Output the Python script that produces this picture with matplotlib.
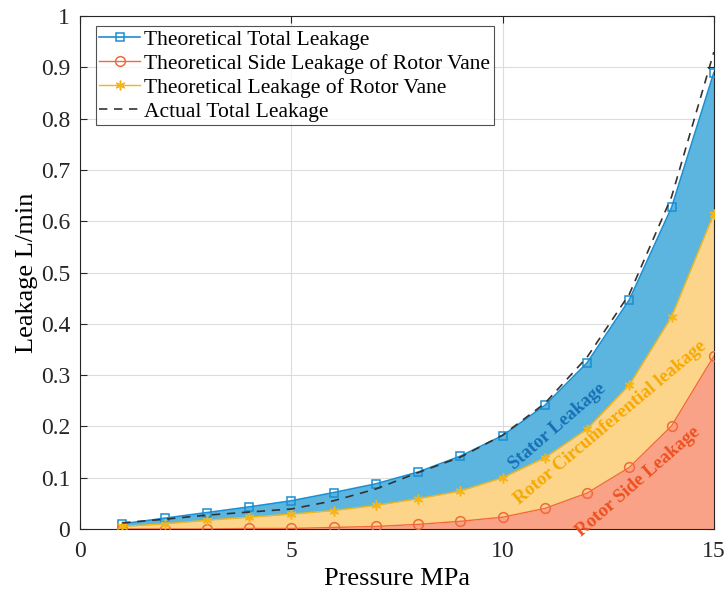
import numpy as np
import matplotlib
matplotlib.use("Agg")
import matplotlib.pyplot as plt

plt.rcParams['font.family'] = ['Liberation Serif', 'DejaVu Serif']

pressure = [1, 2, 3, 4, 5, 6, 7, 8, 9, 10, 11, 12, 13, 14, 15]
total_leak = [0.010, 0.021, 0.032, 0.043, 0.055, 0.071, 0.088, 0.111, 0.142,
              0.182, 0.241, 0.324, 0.447, 0.627, 0.890]
side_leak = [0.000, 0.000, 0.000, 0.001, 0.001, 0.003, 0.005, 0.009, 0.015,
             0.023, 0.040, 0.070, 0.120, 0.201, 0.337]
vane_leak = [0.005, 0.010, 0.017, 0.023, 0.029, 0.036, 0.046, 0.059, 0.074,
             0.100, 0.139, 0.195, 0.281, 0.414, 0.615]
actual_leak = [0.012, 0.019, 0.027, 0.033, 0.039, 0.055, 0.078, 0.110, 0.140,
               0.183, 0.245, 0.335, 0.458, 0.648, 0.930]

blue = '#1A8FD2'
orange = '#F2693B'
yellow = '#F7B515'

fig = plt.figure(figsize=(7.24, 5.98), dpi=100)
ax = fig.add_axes([0.1105, 0.1154, 0.8755, 0.8576])

zeros = np.zeros(len(pressure))
ax.fill_between(pressure, zeros, side_leak, color='#F9A287', lw=0, zorder=1)
ax.fill_between(pressure, side_leak, vane_leak, color='#FCD58B', lw=0, zorder=1)
ax.fill_between(pressure, vane_leak, total_leak, color='#5BB5DF', lw=0, zorder=1)

ax.plot(pressure, total_leak, color=blue, lw=1.2, marker='s', ms=5.5,
        mfc='none', mec=blue, mew=1.1, label='Theoretical Total Leakage', zorder=3)
ax.plot(pressure, side_leak, color=orange, lw=1.0, marker='o', ms=7,
        mfc='none', mec=orange, mew=1.1, label='Theoretical Side Leakage of Rotor Vane', zorder=3)
ax.plot(pressure, vane_leak, color=yellow, lw=1.0, marker=(6, 2, 0), ms=7,
        mec=yellow, mew=1.1, label='Theoretical Leakage of Rotor Vane', zorder=3)
ax.plot(pressure, actual_leak, color='#333333', lw=1.2, ls=(0, (5, 4)),
        label='Actual Total Leakage', zorder=4)

# area labels
ax.text(11.3, 0.200, 'Stator Leakage', color='#1670B5', fontsize=13.5,
        fontweight='bold', rotation=41, ha='center', va='center', zorder=5)
ax.text(12.55, 0.208, 'Rotor Circumferential leakage', color='#F7A800', fontsize=13.5,
        fontweight='bold', rotation=40, ha='center', va='center', zorder=5)
ax.text(13.2, 0.093, 'Rotor Side Leakage', color='#EE5020', fontsize=13.5,
        fontweight='bold', rotation=41, ha='center', va='center', zorder=5)

ax.set_xlim(0, 15)
ax.set_ylim(0, 1)
ax.set_xticks([0, 5, 10, 15])
ax.set_yticks(np.arange(0, 1.01, 0.1))
ax.set_yticklabels(['0', '0.1', '0.2', '0.3', '0.4', '0.5', '0.6', '0.7', '0.8', '0.9', '1'])
ax.tick_params(direction='in', labelsize=17, length=5, width=0.8, colors='#262626',
               top=True, right=True)
ax.tick_params(axis='x', pad=9)
ax.tick_params(axis='y', pad=7)
ax.grid(True, color='#DCDCDC', lw=0.8, zorder=0)
ax.set_axisbelow(True)
for sp in ax.spines.values():
    sp.set_color('#262626')
    sp.set_linewidth(0.8)

ax.set_xlabel('Pressure MPa', fontsize=19, labelpad=4)
ax.set_ylabel('Leakage L/min', fontsize=19, labelpad=2)

leg = ax.legend(loc='upper left', bbox_to_anchor=(0.025, 0.98), fontsize=15.5,
                frameon=True, fancybox=False, edgecolor='#262626', handlelength=1.9,
                handletextpad=0.2, borderpad=0.15, labelspacing=0.18, borderaxespad=0)
leg.get_frame().set_linewidth(0.8)

fig.savefig('out.png', dpi=100)
